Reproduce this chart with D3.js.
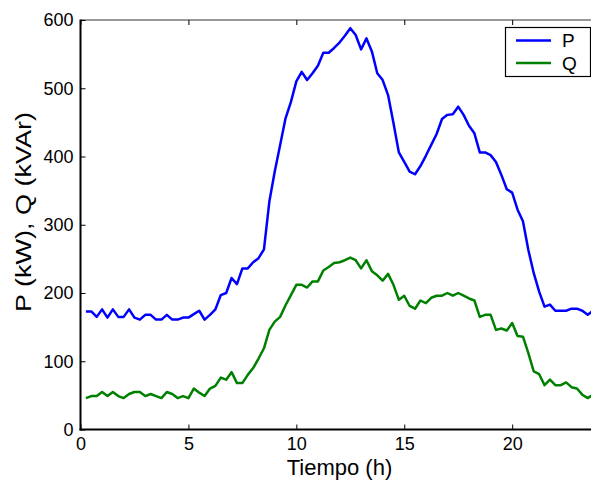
<!doctype html>
<html>
<head>
  <meta charset="utf-8">
  <title>P y Q</title>
  <style>
    body { margin: 0; background: #fff; }
    svg { display: block; font-family: "Liberation Sans", Arial, sans-serif; }
    .tick text { font-size: 18px; fill: #000; }
    .tick line { stroke: #000; }
  </style>
</head>
<body>
  <div id="chart"></div>
  <script src="https://d3js.org/d3.v7.min.js"></script>
  <script>
    // horas (muestras cada 15 min)
    const horas = [
      0.25, 0.5, 0.75, 1, 1.25, 1.5, 1.75, 2, 2.25, 2.5, 2.75, 3, 3.25, 3.5, 3.75, 4,
      4.25, 4.5, 4.75, 5, 5.25, 5.5, 5.75, 6, 6.25, 6.5, 6.75, 7, 7.25, 7.5, 7.75, 8,
      8.25, 8.5, 8.75, 9, 9.25, 9.5, 9.75, 10, 10.25, 10.5, 10.75, 11, 11.25, 11.5, 11.75, 12,
      12.25, 12.5, 12.75, 13, 13.25, 13.5, 13.75, 14, 14.25, 14.5, 14.75, 15, 15.25, 15.5, 15.75, 16,
      16.25, 16.5, 16.75, 17, 17.25, 17.5, 17.75, 18, 18.25, 18.5, 18.75, 19, 19.25, 19.5, 19.75, 20,
      20.25, 20.5, 20.75, 21, 21.25, 21.5, 21.75, 22, 22.25, 22.5, 22.75, 23, 23.25, 23.5, 23.75
    ];

    // potencia activa P (kW)
    const P = [
      173, 173, 165, 176, 164, 176, 165, 165, 176, 164, 161, 168, 168, 161, 161, 168,
      161, 161, 164, 164, 169, 174, 161, 168, 176, 197, 200, 222, 213, 236, 236, 245,
      251, 264, 334, 378, 417, 456, 480, 510, 524, 512, 522, 533, 552, 552, 559, 567,
      577, 588, 578, 557, 573, 554, 522, 512, 490, 449, 406, 392, 378, 374, 386, 401,
      417, 433, 455, 461, 462, 473, 461, 445, 434, 406, 406, 402, 392, 373, 352, 347,
      322, 305, 263, 229, 202, 180, 183, 174, 174, 174, 177, 177, 174, 168, 174
    ];

    // potencia reactiva Q (kVAr)
    const Q = [
      46, 49, 49, 55, 49, 55, 49, 46, 52, 55, 55, 49, 52, 49, 46, 55,
      52, 46, 49, 46, 60, 54, 49, 60, 64, 76, 73, 84, 68, 68, 80, 90,
      104, 119, 146, 158, 165, 182, 197, 212, 212, 208, 217, 217, 233, 238, 244, 245,
      248, 252, 248, 236, 248, 232, 226, 218, 228, 212, 190, 196, 181, 177, 189, 185,
      193, 196, 196, 200, 196, 200, 196, 192, 189, 165, 168, 168, 146, 148, 145, 156,
      137, 136, 112, 85, 81, 65, 73, 65, 65, 69, 62, 60, 51, 46, 51
    ];

    const xTicks = [0, 5, 10, 15, 20];
    const yTicks = [0, 100, 200, 300, 400, 500, 600];
    const series = [
      { name: 'P', values: P, color: '#0000ff' },
      { name: 'Q', values: Q, color: '#008000' }
    ];

    const W = 591, H = 480;
    const mLeft = 80.5, mRight = 598.5, mTop = 20, mBottom = 429.5;

    const svg = d3.select('#chart').append('svg').attr('width', W).attr('height', H);

    const x = d3.scaleLinear().domain([0, 24]).range([mLeft, mRight]);
    const y = d3.scaleLinear().domain([0, 600]).range([mBottom, mTop]);

    // marco superior
    svg.append('line')
      .attr('x1', mLeft).attr('x2', mRight).attr('y1', mTop).attr('y2', mTop)
      .attr('stroke', '#333').attr('stroke-width', 1);

    // ticks superiores hacia adentro
    svg.append('g')
      .attr('transform', `translate(0,${mTop})`)
      .call(d3.axisTop(x).tickValues(xTicks).tickSize(-5).tickFormat(''))
      .call(g => g.select('.domain').remove());

    const gx = svg.append('g')
      .attr('transform', `translate(0,${mBottom})`)
      .call(d3.axisBottom(x).tickValues(xTicks).tickSize(-5).tickPadding(8).tickFormat(d3.format('d')));
    gx.select('.domain').remove();

    const gy = svg.append('g')
      .attr('transform', `translate(${mLeft},0)`)
      .call(d3.axisLeft(y).tickValues(yTicks).tickSize(-5).tickPadding(7).tickFormat(d3.format('d')));
    gy.select('.domain').remove();

    // ejes izquierdo e inferior
    svg.append('line')
      .attr('x1', mLeft).attr('x2', mLeft).attr('y1', mTop - 0.5).attr('y2', mBottom + 1)
      .attr('stroke', '#000').attr('stroke-width', 2);
    svg.append('line')
      .attr('x1', mLeft - 1).attr('x2', mRight).attr('y1', mBottom).attr('y2', mBottom)
      .attr('stroke', '#000').attr('stroke-width', 2);

    const line = d3.line()
      .x((d, i) => x(horas[i]))
      .y(d => y(d));

    svg.selectAll('path.serie')
      .data(series)
      .join('path')
      .attr('class', 'serie')
      .attr('d', d => line(d.values))
      .attr('fill', 'none')
      .attr('stroke', d => d.color)
      .attr('stroke-width', 2.5)
      .attr('stroke-linejoin', 'round');

    // etiquetas de los ejes
    svg.append('text')
      .attr('x', (mLeft + mRight) / 2).attr('y', 475)
      .attr('text-anchor', 'middle')
      .style('font-size', '22px')
      .text('Tiempo (h)');

    svg.append('text')
      .attr('transform', 'translate(31,212) rotate(-90)')
      .attr('text-anchor', 'middle')
      .attr('textLength', 200)
      .attr('lengthAdjust', 'spacingAndGlyphs')
      .style('font-size', '22px')
      .text('P (kW), Q (kVAr)');

    // leyenda
    const leg = svg.append('g');
    leg.append('rect')
      .attr('x', 505.5).attr('y', 27.5).attr('width', 85).attr('height', 49)
      .attr('fill', '#fff').attr('stroke', '#000').attr('stroke-width', 1.2);

    const items = leg.selectAll('g.item')
      .data(series)
      .join('g')
      .attr('class', 'item')
      .attr('transform', (d, i) => `translate(0,${40.5 + i * 22.5})`);
    items.append('line')
      .attr('x1', 516).attr('x2', 551).attr('y1', 0).attr('y2', 0)
      .attr('stroke', d => d.color).attr('stroke-width', 2.5);
    items.append('text')
      .attr('x', 562).attr('y', 0).attr('dy', '0.36em')
      .style('font-size', '19px')
      .text(d => d.name);
  </script>
</body>
</html>
